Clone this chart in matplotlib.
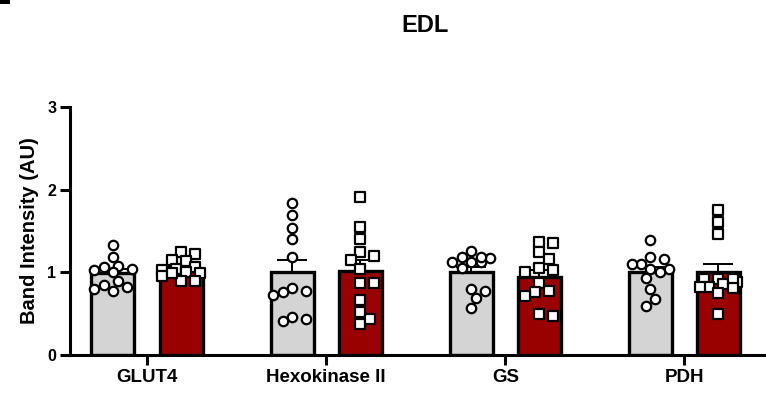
import numpy as np
import matplotlib
matplotlib.use("Agg")
import matplotlib.pyplot as plt
from matplotlib.patches import Rectangle

plt.rcParams['font.family'] = ['Liberation Sans', 'DejaVu Sans']
plt.rcParams['font.weight'] = 'bold'

categories = ["GLUT4", "Hexokinase II", "GS", "PDH"]
title = "EDL"
ylabel = "Band Intensity (AU)"

ctrl_glut4 = [1.33, 1.19, 1.08, 1.04, 1.00, 1.03, 1.06, 0.89, 0.82, 0.85, 0.80, 0.77]
trt_glut4 = [1.24, 1.22, 1.15, 1.14, 1.04, 1.06, 0.99, 1.00, 1.03, 0.95, 0.89, 0.90, 0.99]
ctrl_hk2 = [1.84, 1.69, 1.54, 1.40, 1.18, 0.81, 0.73, 0.77, 0.76, 0.41, 0.46, 0.44]
trt_hk2 = [1.91, 1.55, 1.40, 1.20, 1.24, 1.15, 1.04, 0.87, 0.87, 0.66, 0.52, 0.37, 0.44]
ctrl_gs = [1.26, 1.17, 1.12, 1.12, 1.12, 1.18, 1.18, 1.05, 0.77, 0.80, 0.69, 0.57]
trt_gs = [1.36, 1.37, 1.24, 1.16, 1.05, 1.01, 1.03, 0.87, 0.76, 0.78, 0.71, 0.50, 0.47]
ctrl_pdh = [1.39, 1.10, 1.16, 1.18, 1.10, 1.04, 1.04, 1.00, 0.93, 0.80, 0.68, 0.59]
trt_pdh = [1.75, 1.61, 1.46, 0.92, 0.88, 0.86, 0.92, 0.92, 0.82, 0.82, 0.81, 0.75, 0.50]

ctrl = [ctrl_glut4, ctrl_hk2, ctrl_gs, ctrl_pdh]
trt = [trt_glut4, trt_hk2, trt_gs, trt_pdh]

W, H, DPI = 766, 396, 100
fig = plt.figure(figsize=(W / DPI, H / DPI), dpi=DPI)
ax_l, ax_r, ax_b, ax_t = 70, 765, 355, 107
ax = fig.add_axes([ax_l / W, (H - ax_b) / H, (ax_r - ax_l) / W, (ax_b - ax_t) / H])

xlim = (-0.43, 3.45)
ylim = (0, 3)
ax.set_xlim(*xlim)
ax.set_ylim(*ylim)
px_per_x = (ax_r - ax_l) / (xlim[1] - xlim[0])
px_per_y = (ax_b - ax_t) / (ylim[1] - ylim[0])

bw = 0.24
off = 0.19
grey = "#d4d4d4"
red = "#990000"


def swarm(vals, diam=10.0, step=4.7, maxk=4):
    """Simple beeswarm layout in pixel space, limited width."""
    vals = np.asarray(vals, float)
    order = np.argsort(-vals)
    placed = []
    offs = np.zeros(len(vals))
    cands = [0.0]
    for k in range(1, maxk + 1):
        cands += [k * step, -k * step]
    for i in order:
        yp = vals[i] * px_per_y
        best, best_ov = None, None
        for xo in cands:
            ov = 0.0
            for (px, py) in placed:
                d = np.hypot(px - xo, py - yp)
                if d < diam:
                    ov += diam - d
            if ov == 0:
                best = xo
                break
            if best_ov is None or ov < best_ov - 1e-9:
                best, best_ov = xo, ov
        placed.append((best, yp))
        offs[i] = best / px_per_x
    return offs


x = np.arange(len(categories))
for i in range(len(categories)):
    for vals, sign, color, marker in [(ctrl[i], -1, grey, 'o'), (trt[i], 1, red, 's')]:
        v = np.asarray(vals)
        m = v.mean()
        sem = v.std(ddof=1) / np.sqrt(len(v))
        xc = x[i] + sign * off
        ax.bar(xc, m, width=bw, color=color, edgecolor='black', linewidth=2.4, zorder=2)
        ax.errorbar(xc, m, yerr=[[0], [sem]], fmt='none', ecolor='black',
                    elinewidth=1.4, capsize=11, capthick=1.4, zorder=3)
        ax.scatter(xc + swarm(v), v, marker=marker, s=46, facecolor='white',
                   edgecolor='black', linewidths=1.6, zorder=4)

ax.set_xticks(x)
ax.set_xticklabels(categories, fontsize=13.5, fontweight='bold')
ax.set_yticks([0, 1, 2, 3])
ax.set_yticklabels(['0', '1', '2', '3'], fontsize=11.5, fontweight='bold')
ax.set_ylabel(ylabel, fontsize=14.5, fontweight='bold', labelpad=6)
for s in ['top', 'right']:
    ax.spines[s].set_visible(False)
for s in ['left', 'bottom']:
    ax.spines[s].set_linewidth(2.2)
ax.tick_params(axis='both', width=2.2, length=7, pad=3)

fig.text(425 / W, 1 - 25 / H, title, ha='center', va='center', fontsize=17, fontweight='bold')
fig.patches.append(Rectangle((0, 1 - 4 / H), 10 / W, 4 / H, transform=fig.transFigure,
                             facecolor='black', edgecolor='none'))

fig.savefig("out.png", dpi=DPI)
